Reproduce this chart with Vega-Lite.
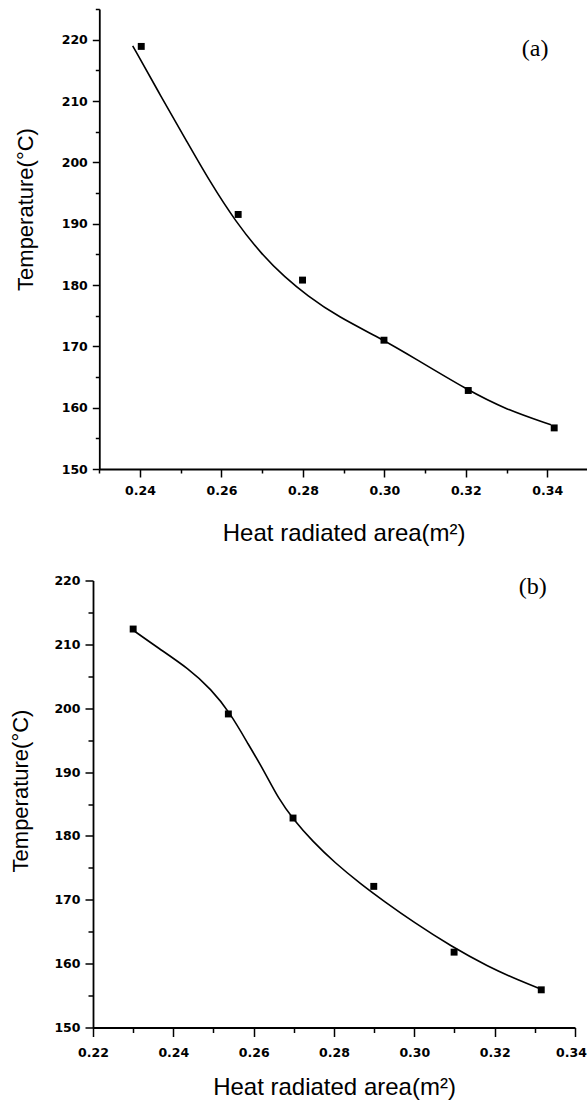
{
  "$schema": "https://vega.github.io/schema/vega-lite/v6.json",
  "background": "white",
  "padding": {"left": 9, "top": 8, "right": 0, "bottom": 0},
  "spacing": 29.5,
  "datasets": {
    "pointsA": [
      {"area": 0.2403, "temp": 218.9},
      {"area": 0.2641, "temp": 191.5},
      {"area": 0.2799, "temp": 180.8},
      {"area": 0.2999, "temp": 171.0},
      {"area": 0.3206, "temp": 162.8},
      {"area": 0.3417, "temp": 156.7}
    ],
    "curveA": [
      {"area": 0.2382, "temp": 219.0},
      {"area": 0.2451, "temp": 210.8},
      {"area": 0.2515, "temp": 203.4},
      {"area": 0.2571, "temp": 196.9},
      {"area": 0.2635, "temp": 190.3},
      {"area": 0.2700, "temp": 184.9},
      {"area": 0.2755, "temp": 181.3},
      {"area": 0.2810, "temp": 178.3},
      {"area": 0.2884, "temp": 174.9},
      {"area": 0.2999, "temp": 171.0},
      {"area": 0.3068, "temp": 168.3},
      {"area": 0.3206, "temp": 162.8},
      {"area": 0.3299, "temp": 159.7},
      {"area": 0.3409, "temp": 157.2}
    ],
    "labelA": [{"area": 0.337, "temp": 218.45, "label": "(a)"}],
    "pointsB": [
      {"area": 0.2300, "temp": 212.4},
      {"area": 0.2537, "temp": 199.1},
      {"area": 0.2698, "temp": 182.8},
      {"area": 0.2899, "temp": 172.1},
      {"area": 0.3099, "temp": 161.8},
      {"area": 0.3316, "temp": 155.9}
    ],
    "curveB": [
      {"area": 0.2298, "temp": 212.3},
      {"area": 0.2363, "temp": 209.4},
      {"area": 0.2438, "temp": 206.2},
      {"area": 0.2494, "temp": 203.0},
      {"area": 0.2541, "temp": 199.3},
      {"area": 0.2588, "temp": 194.2},
      {"area": 0.2625, "temp": 190.3},
      {"area": 0.2662, "temp": 185.8},
      {"area": 0.2700, "temp": 182.5},
      {"area": 0.2746, "temp": 179.2},
      {"area": 0.2802, "temp": 175.8},
      {"area": 0.2868, "temp": 172.4},
      {"area": 0.2924, "temp": 169.8},
      {"area": 0.2998, "temp": 166.5},
      {"area": 0.3092, "temp": 162.7},
      {"area": 0.3185, "temp": 159.5},
      {"area": 0.3260, "temp": 157.4},
      {"area": 0.3316, "temp": 156.0}
    ],
    "labelB": [{"area": 0.3295, "temp": 219.0, "label": "(b)"}]
  },
  "vconcat": [
    {
      "width": 495,
      "height": 460,
      "resolve": {"axis": {"x": "independent", "y": "independent"}},
      "layer": [
        {
          "data": {"name": "curveA"},
          "mark": {"type": "line", "interpolate": "basis", "color": "black", "strokeWidth": 1.6},
          "encoding": {
            "x": {
              "field": "area", "type": "quantitative",
              "scale": {"domain": [0.23, 0.35], "nice": false, "zero": false, "rangeMin": 6.3},
              "axis": {
                "orient": "bottom",
                "values": [0.24, 0.26, 0.28, 0.30, 0.32, 0.34],
                "format": ".2f",
                "tickSize": 8,
                "labelPadding": 7,
                "title": "Heat radiated area(m²)",
                "titleBaseline": "alphabetic",
                "titleY": 71
              }
            },
            "y": {
              "field": "temp", "type": "quantitative",
              "scale": {"domain": [150, 225], "nice": false, "zero": false},
              "axis": {
                "orient": "left",
                "values": [150, 160, 170, 180, 190, 200, 210, 220],
                "tickSize": 7,
                "labelPadding": 5,
                "offset": -6.3,
                "title": "Temperature(°C)",
                "titleX": -62,
                "titleY": 200
              }
            }
          }
        },
        {
          "data": {"name": "pointsA"},
          "mark": {"type": "point", "shape": "square", "filled": true, "color": "black", "opacity": 1, "size": 48},
          "encoding": {
            "x": {
              "field": "area", "type": "quantitative",
              "axis": {
                "orient": "bottom",
                "values": [0.23, 0.25, 0.27, 0.29, 0.31, 0.33, 0.35],
                "tickSize": 4,
                "labels": false,
                "domain": false,
                "title": null
              }
            },
            "y": {
              "field": "temp", "type": "quantitative",
              "axis": {
                "orient": "left",
                "values": [155, 165, 175, 185, 195, 205, 215, 225],
                "tickSize": 4,
                "labels": false,
                "domain": false,
                "offset": -6.3,
                "title": null
              }
            }
          }
        },
        {
          "data": {"name": "labelA"},
          "mark": {"type": "text", "font": "Liberation Serif", "fontSize": 24, "color": "black", "align": "center", "baseline": "middle"},
          "encoding": {
            "x": {"field": "area", "type": "quantitative", "axis": null},
            "y": {"field": "temp", "type": "quantitative", "axis": null},
            "text": {"field": "label"}
          }
        }
      ]
    },
    {
      "width": 482,
      "height": 447,
      "resolve": {"axis": {"x": "independent", "y": "independent"}},
      "layer": [
        {
          "data": {"name": "curveB"},
          "mark": {"type": "line", "interpolate": "basis", "color": "black", "strokeWidth": 1.6},
          "encoding": {
            "x": {
              "field": "area", "type": "quantitative",
              "scale": {"domain": [0.22, 0.34], "nice": false, "zero": false},
              "axis": {
                "orient": "bottom",
                "values": [0.22, 0.24, 0.26, 0.28, 0.30, 0.32, 0.34],
                "format": ".2f",
                "tickSize": 9,
                "labelPadding": 10,
                "labelOffset": {"condition": {"test": "datum.value > 0.335", "value": -4}, "value": 0},
                "title": "Heat radiated area(m²)",
                "titleBaseline": "alphabetic",
                "titleY": 67
              }
            },
            "y": {
              "field": "temp", "type": "quantitative",
              "scale": {"domain": [150, 220], "nice": false, "zero": false},
              "axis": {
                "orient": "left",
                "values": [150, 160, 170, 180, 190, 200, 210, 220],
                "tickSize": 8,
                "labelPadding": 5,
                "title": "Temperature(°C)",
                "titleX": -61,
                "titleY": 210
              }
            }
          }
        },
        {
          "data": {"name": "pointsB"},
          "mark": {"type": "point", "shape": "square", "filled": true, "color": "black", "opacity": 1, "size": 48},
          "encoding": {
            "x": {
              "field": "area", "type": "quantitative",
              "axis": {
                "orient": "bottom",
                "values": [0.23, 0.25, 0.27, 0.29, 0.31, 0.33],
                "tickSize": 5,
                "labels": false,
                "domain": false,
                "title": null
              }
            },
            "y": {
              "field": "temp", "type": "quantitative",
              "axis": {
                "orient": "left",
                "values": [155, 165, 175, 185, 195, 205, 215],
                "tickSize": 5,
                "labels": false,
                "domain": false,
                "title": null
              }
            }
          }
        },
        {
          "data": {"name": "labelB"},
          "mark": {"type": "text", "font": "Liberation Serif", "fontSize": 24, "color": "black", "align": "center", "baseline": "middle"},
          "encoding": {
            "x": {"field": "area", "type": "quantitative", "axis": null},
            "y": {"field": "temp", "type": "quantitative", "axis": null},
            "text": {"field": "label"}
          }
        }
      ]
    }
  ],
  "config": {
    "view": {"stroke": null},
    "axis": {
      "grid": false,
      "domainColor": "black",
      "domainWidth": 1.8,
      "tickColor": "black",
      "tickWidth": 1.5,
      "labelColor": "black",
      "labelFont": "DejaVu Sans",
      "labelFontWeight": "bold",
      "labelFontSize": 12.5,
      "labelFlush": false,
      "labelOverlap": false,
      "titleColor": "black",
      "titleFont": "Liberation Sans",
      "titleFontWeight": "normal",
      "titleFontSize": 22
    },
    "axisX": {"titleFontSize": 24}
  }
}
